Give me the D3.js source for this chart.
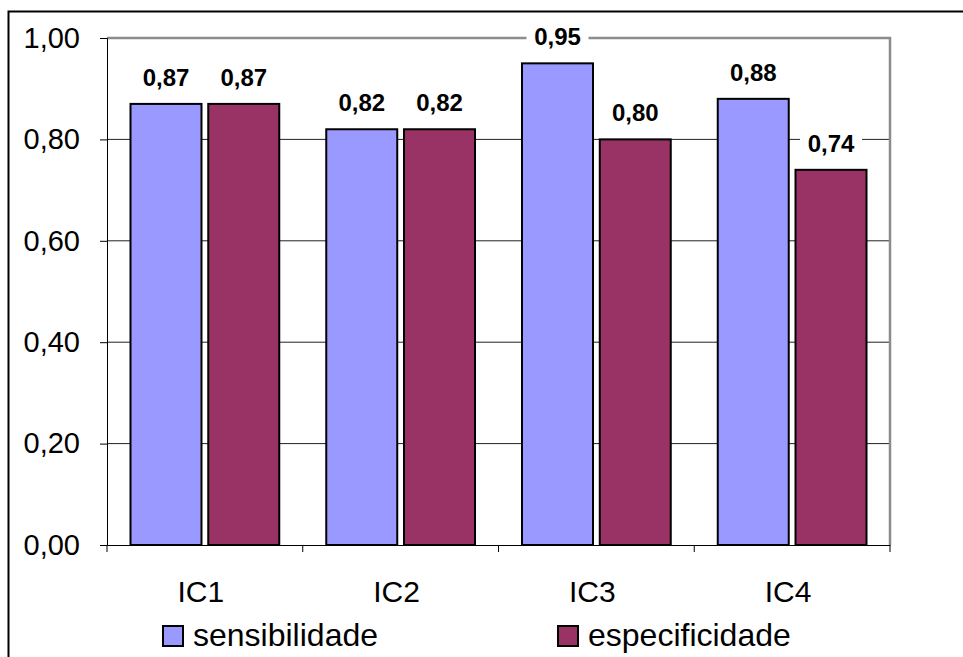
<!DOCTYPE html>
<html>
<head>
<meta charset="utf-8">
<script src="https://cdn.jsdelivr.net/npm/d3@7"></script>
<style>
  body { margin: 0; background: #fff; }
  svg { display: block; font-family: "Liberation Sans", Arial, sans-serif; }
</style>
</head>
<body>
<div id="chart"></div>
<script>
// data
var categories = ["IC1", "IC2", "IC3", "IC4"];
var series = ["sensibilidade", "especificidade"];
var sensibilidade = [0.87, 0.82, 0.95, 0.88];
var especificidade = [0.87, 0.82, 0.80, 0.74];
var yTicks = [0, 0.2, 0.4, 0.6, 0.8, 1.0];
var colors = ["#9999ff", "#993366"];

var values = [sensibilidade, especificidade];
var fmt = function(v) { return d3.format(".2f")(v).replace(".", ","); };

var W = 963, H = 657;
var plot = {left: 107, right: 890, top: 38, bottom: 545};

var svg = d3.select("#chart").append("svg")
    .attr("width", W)
    .attr("height", H);

// outer frame (cut off at right and bottom)
svg.append("rect")
    .attr("x", 8.5).attr("y", 11.5)
    .attr("width", 1000).attr("height", 700)
    .attr("fill", "none")
    .attr("stroke", "#000")
    .attr("stroke-width", 2);

var y = d3.scaleLinear()
    .domain([0, 1])
    .range([plot.bottom, plot.top]);

var x0 = d3.scaleBand()
    .domain(categories)
    .range([plot.left, plot.right]);

var x1 = d3.scaleBand()
    .domain(series)
    .range([23.5, x0.bandwidth() - 23.5])
    .paddingInner(0.087);

/**  gridlines  **/
svg.append("g")
    .selectAll("line")
    .data(yTicks.filter(function(d) { return d > 0 && d < 1; }))
    .enter().append("line")
      .attr("x1", plot.left).attr("x2", plot.right)
      .attr("y1", function(d) { return y(d); })
      .attr("y2", function(d) { return y(d); })
      .attr("stroke", "#222")
      .attr("stroke-width", 1);

// plot area border top + right (gray)
svg.append("path")
    .attr("d", "M" + plot.left + "," + y(1) + "H" + plot.right + "V" + plot.bottom)
    .attr("fill", "none")
    .attr("stroke", "#8c8c8c")
    .attr("stroke-width", 2.5);

/**  axes  **/
var yAxis = d3.axisLeft(y)
    .tickValues(yTicks)
    .tickSize(7)
    .tickPadding(20)
    .tickFormat(fmt);

var gy = svg.append("g")
    .attr("transform", "translate(" + plot.left + ",0)")
    .call(yAxis);
gy.select(".domain").attr("stroke", "#000");
gy.selectAll(".tick line").attr("stroke", "#000");
gy.selectAll("text")
    .attr("font-size", 29)
    .attr("font-family", "Liberation Sans, Arial, sans-serif")
    .attr("fill", "#000");

var xAxis = d3.axisBottom(x0)
    .tickSize(0)
    .tickPadding(0)
    .tickFormat("");

var gx = svg.append("g")
    .attr("transform", "translate(0," + plot.bottom + ")")
    .call(xAxis);
gx.select(".domain").attr("stroke", "#000");

// x ticks at the category edges
svg.append("g")
    .selectAll("line")
    .data(categories.concat(["end"]))
    .enter().append("line")
      .attr("x1", function(d, i) { return i < categories.length ? x0(d) : plot.right; })
      .attr("x2", function(d, i) { return i < categories.length ? x0(d) : plot.right; })
      .attr("y1", plot.bottom).attr("y2", plot.bottom + 7)
      .attr("stroke", "#000");

// category labels
svg.append("g")
    .selectAll("text")
    .data(categories)
    .enter().append("text")
      .attr("x", function(d) { return x0(d) + x0.bandwidth() / 2 - 4; })
      .attr("y", 602)
      .attr("text-anchor", "middle")
      .attr("font-size", 30)
      .text(function(d) { return d; });

/**  bars  **/
var groups = svg.selectAll(".grp")
    .data(categories)
    .enter().append("g")
      .attr("class", "grp")
      .attr("transform", function(d) { return "translate(" + x0(d) + ",0)"; });

groups.selectAll("rect")
    .data(function(d, i) { return series.map(function(s, j) { return {s: s, j: j, v: values[j][i]}; }); })
    .enter().append("rect")
      .attr("x", function(d) { return x1(d.s); })
      .attr("y", function(d) { return y(d.v); })
      .attr("width", x1.bandwidth())
      .attr("height", function(d) { return y(0) - y(d.v); })
      .attr("fill", function(d) { return colors[d.j]; })
      .attr("stroke", "#000")
      .attr("stroke-width", 2);

// value labels with white background
var labels = groups.selectAll(".lbl")
    .data(function(d, i) { return series.map(function(s, j) { return {s: s, j: j, v: values[j][i]}; }); })
    .enter().append("g")
      .attr("class", "lbl");

labels.append("rect")
    .attr("x", function(d) { return x1(d.s) + x1.bandwidth() / 2 - 31; })
    .attr("y", function(d) { return y(d.v) - 41; })
    .attr("width", 62)
    .attr("height", 29)
    .attr("fill", "#fff");

labels.append("text")
    .attr("x", function(d) { return x1(d.s) + x1.bandwidth() / 2; })
    .attr("y", function(d) { return y(d.v) - 18; })
    .attr("text-anchor", "middle")
    .attr("font-size", 24)
    .attr("font-weight", "bold")
    .text(function(d) { return fmt(d.v); });

/**  legend  **/
var legendX = [163, 558];
var legend = svg.selectAll(".leg")
    .data(series)
    .enter().append("g")
      .attr("class", "leg")
      .attr("transform", function(d, i) { return "translate(" + legendX[i] + ",626)"; });

legend.append("rect")
    .attr("width", 20).attr("height", 20)
    .attr("fill", function(d, i) { return colors[i]; })
    .attr("stroke", "#000")
    .attr("stroke-width", 2);

legend.append("text")
    .attr("x", 30)
    .attr("y", 20)
    .attr("font-size", 32)
    .text(function(d) { return d; });
</script>
</body>
</html>
